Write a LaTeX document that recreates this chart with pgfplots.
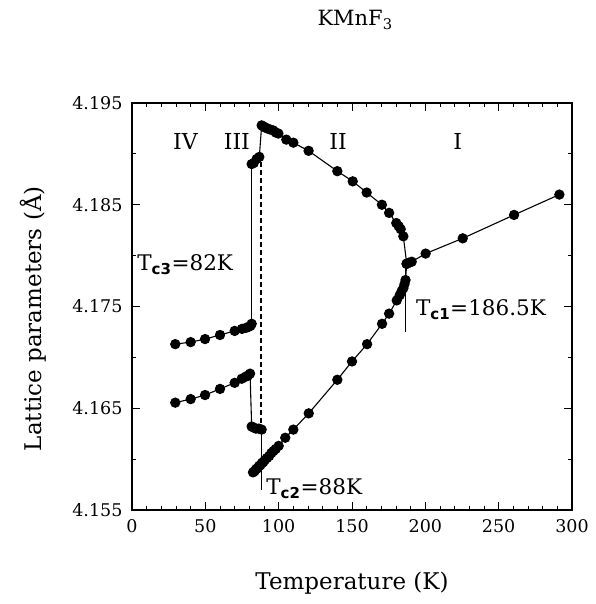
\documentclass[border=0pt]{standalone}
\usepackage{pgfplots}
\pgfplotsset{compat=1.18}
\usepackage{fontspec}
\setmainfont{DejaVu Serif}
\setsansfont{DejaVu Sans}
\newcommand{\sub}[1]{\textsubscript{\sffamily\bfseries #1}}
\pgfplotsset{
  pts/.style={black, solid, line width=1.1pt, mark=*, mark size=4.6pt, mark options={solid, fill=black, draw=black}},
  ln/.style={black, solid, line width=1.1pt, mark=none},
}
\begin{document}
\begin{tikzpicture}
\begin{axis}[
  at={(0pt,0pt)}, anchor=south west,
  scale only axis, width=440pt, height=407pt,
  xmin=0, xmax=300, ymin=4.155, ymax=4.195,
  xtick={0,50,...,300}, minor x tick num=4,
  ytick={4.155,4.165,4.175,4.185,4.195}, minor ytick={4.160,4.170,4.180,4.190},
  scaled y ticks=false,
  yticklabel style={/pgf/number format/fixed, /pgf/number format/fixed zerofill, /pgf/number format/precision=3, xshift=-6pt},
  /pgf/number format/assume math mode=true,
  tick align=inside,
  major tick length=8pt, minor tick length=4pt,
  axis line style={line width=1.1pt},
  every tick/.style={black, line width=0.9pt},
  ticklabel style={font=\fontsize{17.5}{20}\selectfont},
  xticklabel style={yshift=-6pt},
  label style={font=\fontsize{23}{27}\selectfont},
  xlabel={Temperature (K)},
  xlabel style={at={(axis description cs:0.5,-0.179)}, anchor=center},
  ylabel={Lattice parameters (Å)},
  ylabel style={at={(axis description cs:-0.225,0.47)}, anchor=center},
  clip=false,
]
% phase IV/III upper (c) branch and jump
\addplot[pts] coordinates {
(29.5,4.1713) (40,4.1715) (49.8,4.1718) (60,4.1722) (70,4.1726) (75,4.1728) (77.7,4.1729) (79.5,4.1730) (80.8,4.1731) (81.6,4.1733)
};
\addplot[ln] coordinates {(81.6,4.1733) (81.6,4.1890)};
\addplot[pts] coordinates {
(81.6,4.1890) (83,4.1891) (85,4.1895) (86.8,4.1897)
};
\addplot[ln] coordinates {(86.8,4.1897) (88.4,4.1928)};
% phase II upper branch
\addplot[pts] coordinates {
(88.4,4.1928) (89.5,4.1927) (90.7,4.1926) (92.2,4.1925) (94.1,4.1924) (96.4,4.1923) (98,4.1921) (99.8,4.1920) (105.2,4.1914) (110,4.1911) (120.4,4.1903) (140,4.1883) (150.5,4.1873) (160,4.1862) (170.4,4.1850) (175.3,4.1842) (180.2,4.1832) (181.8,4.1829) (183.2,4.1826) (185,4.1819) (187.3,4.1792)
};
% phase IV/III lower (a) branch and drop
\addplot[pts] coordinates {
(29.5,4.16555) (40,4.1659) (49.8,4.1663) (60,4.1669) (70,4.1675) (74.8,4.1679) (77.5,4.1681) (79,4.1682) (80.5,4.1684)
};
\addplot[ln] coordinates {(80.5,4.1684) (81.6,4.1632)};
\addplot[pts] coordinates {
(81.6,4.1632) (83,4.1631) (84.5,4.1630) (86.5,4.1630) (88.4,4.1629)
};
% phase II lower branch
\addplot[pts] coordinates {
(82.5,4.1587) (83.5,4.1588) (84.5,4.1590) (85.5,4.1591) (86.5,4.1593) (87.5,4.1594) (88.5,4.1596) (89.5,4.1597) (90.5,4.1599) (92,4.1601) (93.5,4.1603) (95,4.1606) (96.5,4.1608) (98,4.1610) (100,4.1613) (104.5,4.1621) (110,4.1629) (120.5,4.1645) (140,4.1678) (150,4.1696) (160.3,4.1713) (170.5,4.1733) (175.3,4.1743) (180.5,4.1756) (182.5,4.1761) (183.8,4.1765) (185,4.1768) (185.8,4.1772) (186.5,4.1776) (187.3,4.1792)
};
% phase I
\addplot[pts] coordinates {
(187.3,4.1792) (188.8,4.1793) (190.7,4.1794) (200.2,4.1802) (225.5,4.1817) (260.5,4.1840) (291.4,4.1860)
};
% transition markers
\addplot[ln, line width=1.2pt, dash pattern=on 5pt off 3pt] coordinates {(88,4.1892) (88,4.1632)};
\addplot[ln] coordinates {(88,4.1629) (88,4.1570)};
\addplot[ln] coordinates {(186.5,4.1790) (186.5,4.1725)};
% texts
\node[font=\fontsize{22}{26}\selectfont] at (axis cs:36.5,4.1912) {IV};
\node[font=\fontsize{22}{26}\selectfont] at (axis cs:71.5,4.1912) {III};
\node[font=\fontsize{22}{26}\selectfont] at (axis cs:140.5,4.1912) {II};
\node[font=\fontsize{22}{26}\selectfont] at (axis cs:222,4.1912) {I};
\node[font=\fontsize{21.5}{25}\selectfont, anchor=west, inner sep=0pt] at (axis cs:3.5,4.1791) {T\sub{c3}=82K};
\node[font=\fontsize{21.5}{25}\selectfont, anchor=west, inner sep=0pt] at (axis cs:91.5,4.1571) {T\sub{c2}=88K};
\node[font=\fontsize{21.5}{25}\selectfont, anchor=west, inner sep=0pt] at (axis cs:193.5,4.1747) {T\sub{c1}=186.5K};
\node[font=\fontsize{21}{25}\selectfont] at (axis description cs:0.507,1.204) {KMnF\textsubscript{3}};
\end{axis}
\path (-132pt,-94pt) rectangle (463pt,510pt);
\end{tikzpicture}
\end{document}
